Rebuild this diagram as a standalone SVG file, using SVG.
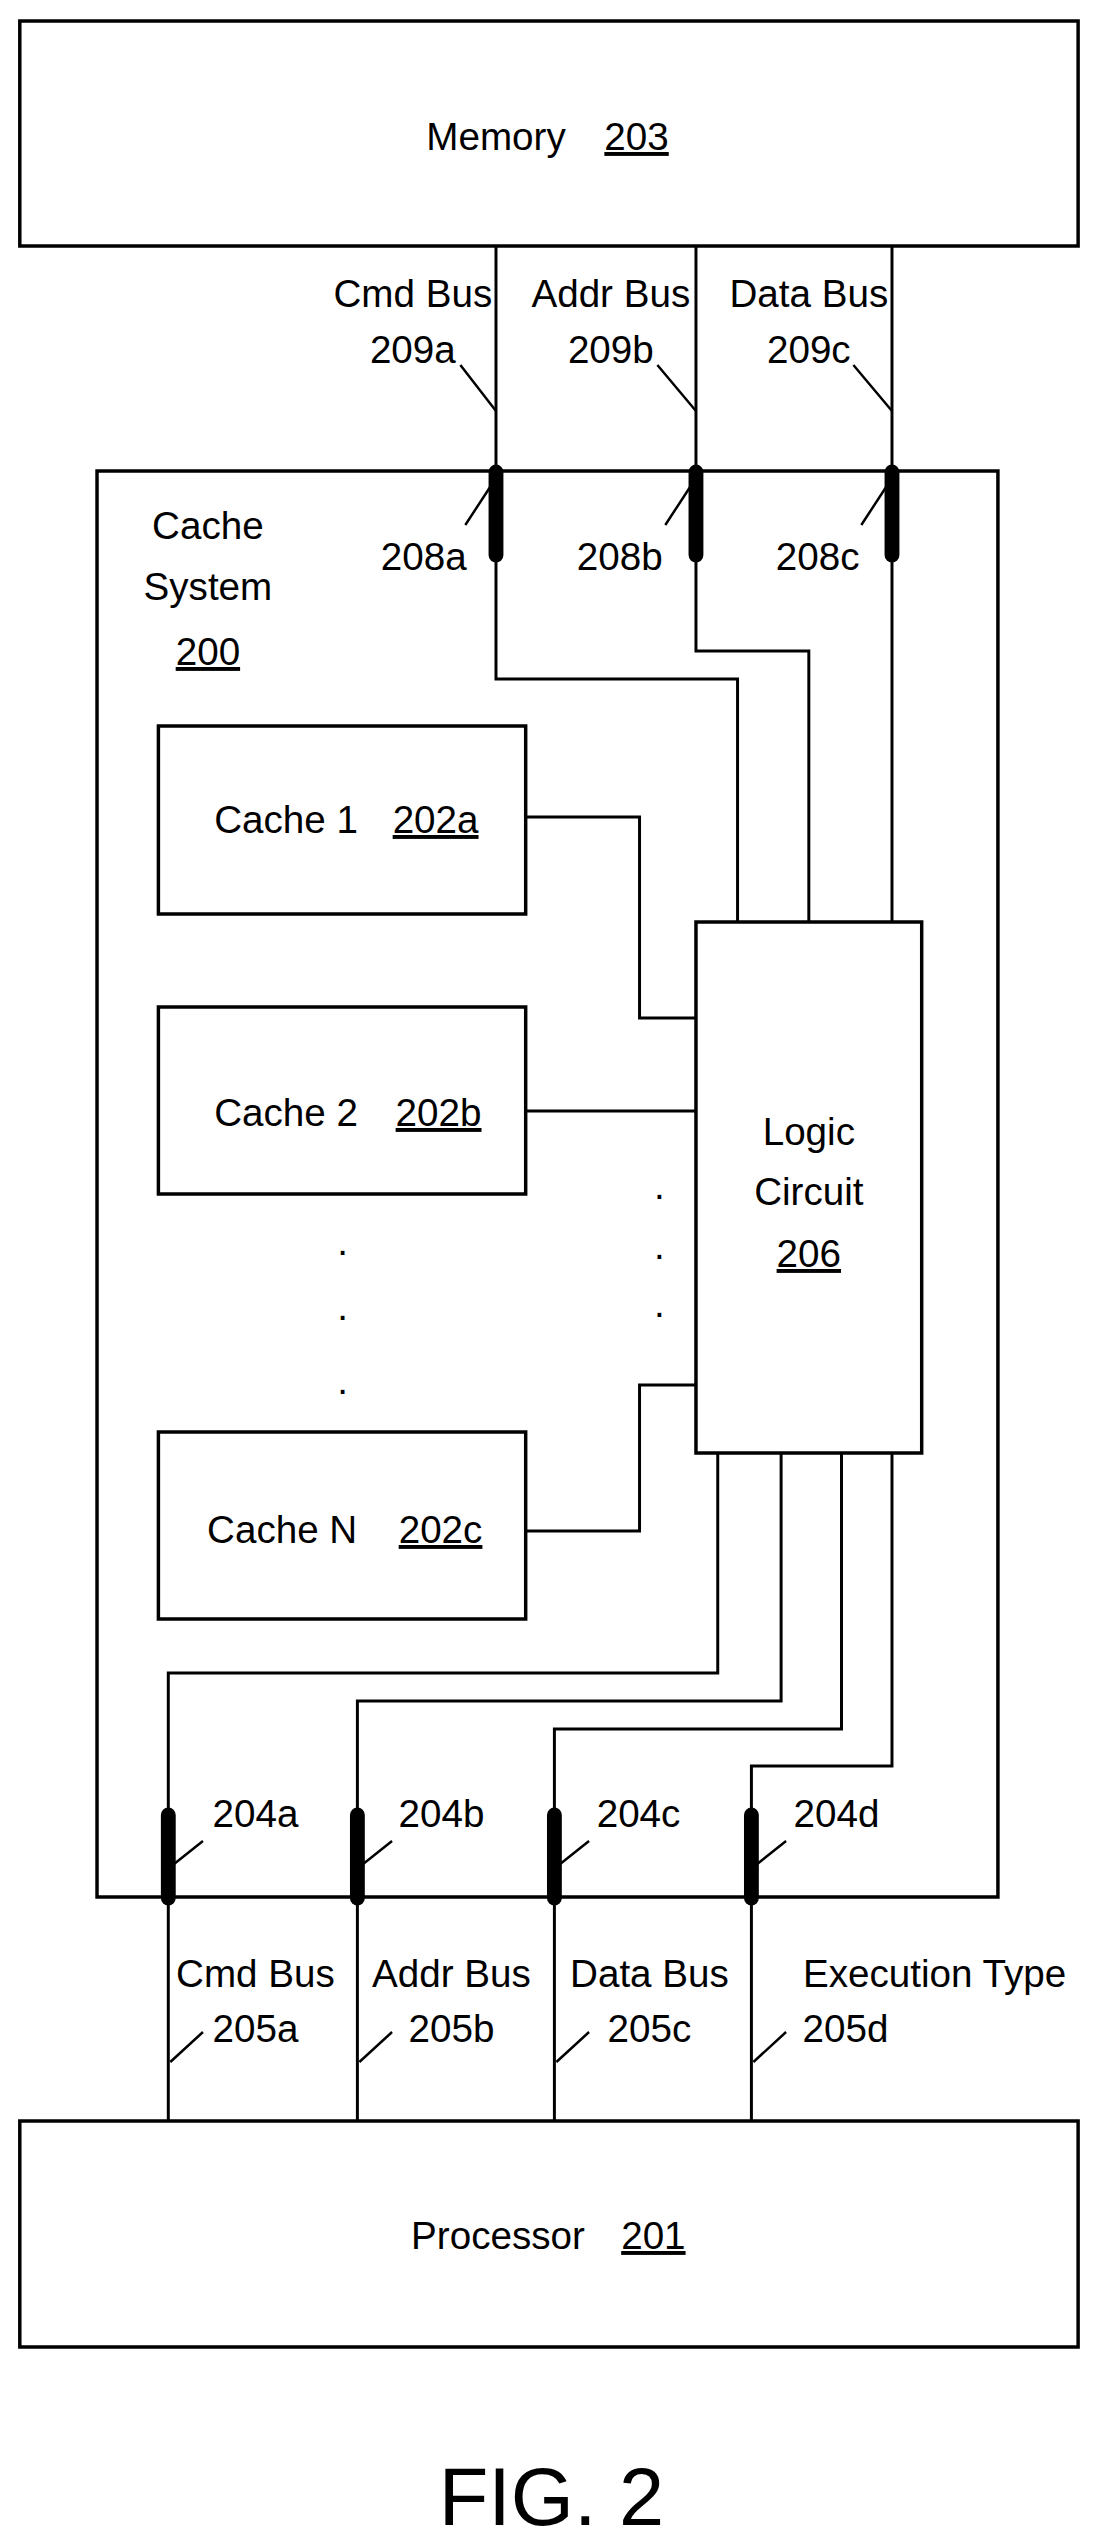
<svg xmlns="http://www.w3.org/2000/svg" width="1096" height="2547" viewBox="0 0 1096 2547">
<style>
text{font-family:"Liberation Sans",Arial,sans-serif;font-size:39px;fill:#000;text-anchor:middle}
.box{fill:#fff;stroke:#000;stroke-width:3.5}
.w{fill:none;stroke:#000;stroke-width:3}
.t{fill:none;stroke:#000;stroke-width:2.5}
.c{stroke:#000;stroke-width:15;stroke-linecap:round}
.u{text-decoration:underline}
</style>
<rect width="1096" height="2547" fill="#fff"/>
<g transform="scale(0.99 1)">
<g id="memory"><rect class="box" x="20" y="21" width="1069" height="225"/><text x="501" y="150">Memory</text><text class="u" x="643" y="150">203</text></g>
<g id="cache-system"><rect class="box" x="98" y="471" width="910" height="1426"/><text x="210" y="539">Cache</text><text x="210" y="600">System</text><text class="u" x="210" y="665">200</text></g>
<g id="connectors">
<path class="w" d="M501 246V679H745V922M703 246V651H817V922M901 246V922"/>
<path class="w" d="M531 817H646V1018H703M531 1111H703M531 1531H646V1385H703"/>
<path class="w" d="M725 1453V1673H170V2121M789 1453V1701H361V2121M850 1453V1729H560V2121M901 1453V1766H759V2121"/>
<line class="c" x1="501" y1="472" x2="501" y2="555"/><line class="c" x1="703" y1="472" x2="703" y2="555"/><line class="c" x1="901" y1="472" x2="901" y2="555"/>
<line class="c" x1="170" y1="1815" x2="170" y2="1898"/><line class="c" x1="361" y1="1815" x2="361" y2="1898"/><line class="c" x1="560" y1="1815" x2="560" y2="1898"/><line class="c" x1="759" y1="1815" x2="759" y2="1898"/>
<path class="t" d="M465 365L501 411M664 365L703 411M862 365L901 411M470 525L501 478M672 525L703 478M870 525L901 478"/>
<path class="t" d="M205 1841L172 1867M396 1841L363 1867M595 1841L562 1867M794 1841L761 1867M205 2032L172 2062M396 2032L363 2062M595 2032L562 2062M794 2032L761 2062"/>
</g>
<g id="labels">
<text x="417" y="307">Cmd Bus</text><text x="417" y="363">209a</text>
<text x="617" y="307">Addr Bus</text><text x="617" y="363">209b</text>
<text x="817" y="307">Data Bus</text><text x="817" y="363">209c</text>
<text x="428" y="570">208a</text><text x="626" y="570">208b</text><text x="826" y="570">208c</text>
<text x="258" y="1827">204a</text><text x="446" y="1827">204b</text><text x="645" y="1827">204c</text><text x="845" y="1827">204d</text>
<text x="258" y="1987">Cmd Bus</text><text x="456" y="1987">Addr Bus</text><text x="656" y="1987">Data Bus</text><text x="944" y="1987">Execution Type</text>
<text x="258" y="2042">205a</text><text x="456" y="2042">205b</text><text x="656" y="2042">205c</text><text x="854" y="2042">205d</text>
</g>
<g id="cache1"><rect class="box" x="160" y="726" width="371" height="188"/><text x="289" y="833">Cache 1</text><text class="u" x="440" y="833">202a</text></g>
<g id="cache2"><rect class="box" x="160" y="1007" width="371" height="187"/><text x="289" y="1126">Cache 2</text><text class="u" x="443" y="1126">202b</text></g>
<g id="cacheN"><rect class="box" x="160" y="1432" width="371" height="187"/><text x="285" y="1543">Cache N</text><text class="u" x="445" y="1543">202c</text></g>
<g id="dots"><text x="346" y="1255">.</text><text x="346" y="1320">.</text><text x="346" y="1394">.</text><text x="666" y="1199">.</text><text x="666" y="1259">.</text><text x="666" y="1317">.</text></g>
<g id="logic"><rect class="box" x="703" y="922" width="228" height="531"/><text x="817" y="1145">Logic</text><text x="817" y="1205">Circuit</text><text class="u" x="817" y="1267">206</text></g>
<g id="processor"><rect class="box" x="20" y="2121" width="1069" height="226"/><text x="503" y="2249">Processor</text><text class="u" x="660" y="2249">201</text></g>
<text x="557" y="2525" style="font-size:82px">FIG. 2</text>
</g>
</svg>
